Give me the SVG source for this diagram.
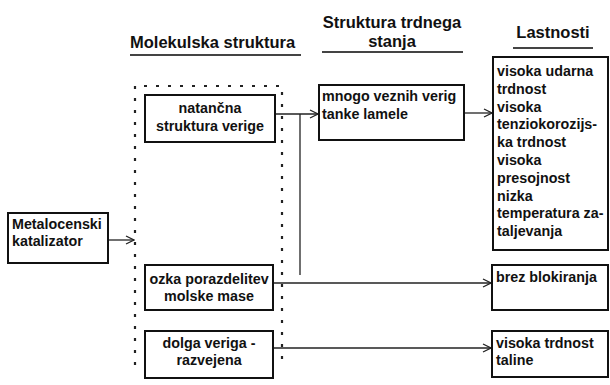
<svg xmlns="http://www.w3.org/2000/svg" width="610" height="385" viewBox="0 0 610 385">
<style>
text{font-family:"Liberation Sans",Arial,sans-serif;font-weight:bold;fill:#111}
.h{font-size:16.5px}
.t{font-size:14.3px}
.c{text-anchor:middle}
.box{fill:none;stroke:#111;stroke-width:2}
.ln{fill:none;stroke:#222;stroke-width:1.3}
.ul{stroke:#444;stroke-width:2}
</style>
<defs>
<marker id="ar" viewBox="0 0 10 10" refX="9" refY="5" markerWidth="10" markerHeight="10" markerUnits="userSpaceOnUse" orient="auto">
<path d="M1,1 L9,5 L1,9" fill="none" stroke="#222" stroke-width="1.3"/>
</marker>
</defs>
<rect width="610" height="385" fill="#fff"/>
<g id="headings">
<text class="h" x="130" y="48">Molekulska struktura</text>
<line class="ul" x1="130" y1="55" x2="301" y2="55"/>
<text class="h c" x="392" y="28">Struktura trdnega</text>
<text class="h c" x="392" y="47">stanja</text>
<line class="ul" x1="322" y1="52" x2="463" y2="52"/>
<text class="h c" x="553" y="38">Lastnosti</text>
<line class="ul" x1="513" y1="48" x2="593" y2="48"/>
</g>
<g id="group-molekulska">
<path d="M135,365 V86 H282 V365" fill="none" stroke="#222" stroke-width="2.2" stroke-dasharray="3 9"/>
</g>
<g id="connectors">
<line class="ln" x1="108" y1="240" x2="134" y2="240" marker-end="url(#ar)"/>
<line class="ln" x1="275" y1="114" x2="318" y2="114" marker-end="url(#ar)"/>
<line class="ln" x1="300" y1="114" x2="300" y2="275"/>
<line class="ln" x1="464" y1="113" x2="492" y2="113" marker-end="url(#ar)"/>
<line class="ln" x1="273" y1="283" x2="491" y2="283" marker-end="url(#ar)"/>
<line class="ln" x1="273" y1="348" x2="491" y2="348" marker-end="url(#ar)"/>
</g>
<g id="metalocenski">
<rect class="box" x="8" y="213" width="100" height="50"/>
<text class="t" x="12" y="229">Metalocenski</text>
<text class="t" x="12" y="246">katalizator</text>
</g>
<g id="natancna">
<rect class="box" x="145" y="95" width="130" height="47"/>
<text class="t c" x="210" y="113">natančna</text>
<text class="t c" x="210" y="131">struktura verige</text>
</g>
<g id="ozka">
<rect class="box" x="145" y="265" width="128" height="45"/>
<text class="t c" x="209" y="284">ozka porazdelitev</text>
<text class="t c" x="209" y="301">molske mase</text>
</g>
<g id="dolga">
<rect class="box" x="145" y="331" width="128" height="47"/>
<text class="t c" x="209" y="348">dolga veriga -</text>
<text class="t c" x="209" y="365">razvejena</text>
</g>
<g id="mnogo">
<rect class="box" x="319" y="85" width="145" height="55"/>
<text class="t" x="322" y="101">mnogo veznih verig</text>
<text class="t" x="322" y="119">tanke lamele</text>
</g>
<g id="lastnosti1">
<rect class="box" x="493" y="57" width="115" height="193"/>
<text class="t" x="497" y="76">visoka udarna</text>
<text class="t" x="497" y="94">trdnost</text>
<text class="t" x="497" y="112">visoka</text>
<text class="t" x="497" y="129">tenziokorozijs-</text>
<text class="t" x="497" y="147">ka trdnost</text>
<text class="t" x="497" y="165">visoka</text>
<text class="t" x="497" y="183">presojnost</text>
<text class="t" x="497" y="201">nizka</text>
<text class="t" x="497" y="218">temperatura za-</text>
<text class="t" x="497" y="236">taljevanja</text>
</g>
<g id="brez">
<rect class="box" x="492" y="265" width="116" height="45"/>
<text class="t" x="496" y="282">brez blokiranja</text>
</g>
<g id="taline">
<rect class="box" x="492" y="331" width="116" height="46"/>
<text class="t" x="496" y="348">visoka trdnost</text>
<text class="t" x="496" y="365">taline</text>
</g>
</svg>
